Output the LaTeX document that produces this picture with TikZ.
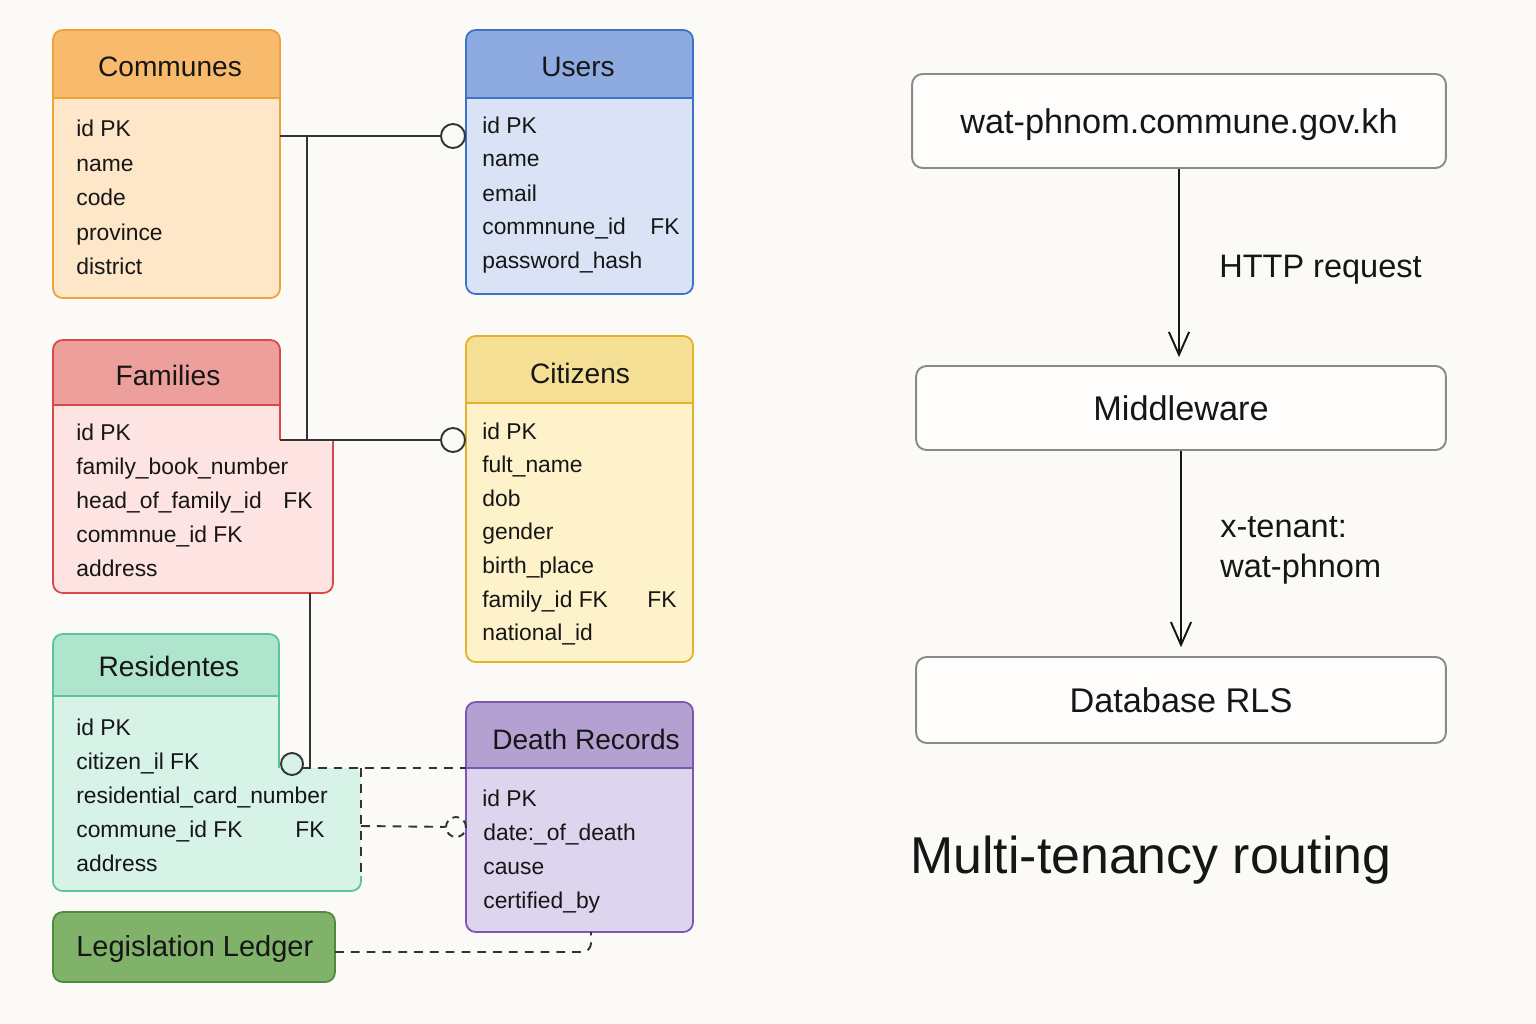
\documentclass[tikz,border=0pt]{standalone}
\usepackage{fontspec}
\setmainfont{Liberation Sans}
\usetikzlibrary{arrows.meta}

\definecolor{bg}{HTML}{FCFAF7}
\definecolor{ink}{HTML}{161616}
\definecolor{wire}{HTML}{333333}
\definecolor{comHead}{HTML}{F8BA6C}
\definecolor{comBody}{HTML}{FEE7C9}
\definecolor{comLine}{HTML}{F0A23A}
\definecolor{usrHead}{HTML}{8DABE1}
\definecolor{usrBody}{HTML}{D9E3F5}
\definecolor{usrLine}{HTML}{3D72C9}
\definecolor{famHead}{HTML}{ED9F9C}
\definecolor{famBody}{HTML}{FDE3E1}
\definecolor{famLine}{HTML}{D9484A}
\definecolor{citHead}{HTML}{F4DF95}
\definecolor{citBody}{HTML}{FEF2CA}
\definecolor{citLine}{HTML}{E1B22A}
\definecolor{resHead}{HTML}{AFE4CD}
\definecolor{resBody}{HTML}{D7F2E7}
\definecolor{resLine}{HTML}{5CC49A}
\definecolor{dthHead}{HTML}{B4A1D1}
\definecolor{dthBody}{HTML}{DDD4ED}
\definecolor{dthLine}{HTML}{7D55B3}
\definecolor{ledFill}{HTML}{80B26A}
\definecolor{ledLine}{HTML}{4F8A3E}
\definecolor{boxLine}{HTML}{8A8A8A}
\definecolor{boxFill}{HTML}{FEFDFB}

\tikzset{>={Straight Barb[length=13pt,width=11.5pt]}}
\tikzset{
  field/.style={anchor=base west, inner sep=0pt, text=ink, font=\fontsize{13}{15}\selectfont},
  title/.style={anchor=base, inner sep=0pt, text=ink, font=\fontsize{16}{19}\selectfont},
  lbl/.style={anchor=base west, inner sep=0pt, text=ink, font=\fontsize{18.5}{22}\selectfont},
  lnk/.style={draw=wire, line width=1.1pt},
  weak/.style={lnk, dash pattern=on 5pt off 4pt},
  zero/.style={circle, draw=wire, line width=1.1pt, inner sep=0pt},
  flowbox/.style={draw=boxLine, fill=boxFill, line width=1.1pt, rounded corners=6pt,
    inner sep=0pt, text=ink, font=\fontsize{19.5}{23}\selectfont, text height=14.4pt, text depth=0pt},
  flow/.style={->, draw=ink, line width=1.1pt}
}

% table: x1, y1, x2, header bottom, y2, head, body, border
\newcommand\erbox[8]{%
  \begin{scope}
    \clip[rounded corners=5.5pt] (#1,#2) rectangle (#3,#5);
    \fill[#7] (#1,#2) rectangle (#3,#5);
    \fill[#6] (#1,#2) rectangle (#3,#4);
  \end{scope}
  \draw[#8, line width=1pt, rounded corners=5.5pt] (#1,#2) rectangle (#3,#5);
  \draw[#8, line width=1pt] (#1,#4) -- (#3,#4);
}

\begin{document}
\begin{tikzpicture}[x=0.02cm,y=-0.02cm]
  \fill[bg] (0,0) rectangle (1536,1024);
  \useasboundingbox (0,0) rectangle (1536,1024);

  % Communes
  \erbox{53}{30}{280}{98}{298}{comHead}{comBody}{comLine}
  \node[title] (communes) at (170,77) {Communes};
  \node[field] (comId) at (76,137) {id PK};
  \node[field] (comName) at (76,171.5) {name};
  \node[field] (comCode) at (76,206) {code};
  \node[field] (comProv) at (76,240.5) {province};
  \node[field] (comDist) at (76,275) {district};

  % Users
  \erbox{466}{30}{693}{98}{294}{usrHead}{usrBody}{usrLine}
  \node[title] (users) at (578,77) {Users};
  \node[field] (usrId) at (482,133.5) {id PK};
  \node[field] (usrName) at (482,167) {name};
  \node[field] (usrMail) at (482,201) {email};
  \node[field] (usrCom) at (482,234.5) {commnune\_id};
  \node[field] (usrFk) at (650,234.5) {FK};
  \node[field] (usrPw) at (482,268) {password\_hash};

  % Families
  \begin{scope}
    \clip[rounded corners=5.5pt] (53,340) rectangle (280,593) (53,440) rectangle (333,593);
    \fill[famBody] (53,340) rectangle (333,593);
    \fill[famHead] (53,340) rectangle (280,405);
  \end{scope}
  \draw[famLine, line width=1pt, rounded corners=5.5pt] (333,440) -- (333,593) -- (53,593)
    -- (53,340) -- (280,340) -- (280,440);
  \draw[famLine, line width=1pt] (53,405) -- (280,405);
  \node[title] (families) at (168,385) {Families};
  \node[field] (famId) at (76,440) {id PK};
  \node[field] (famBook) at (76,474) {family\_book\_number};
  \node[field] (famHeadId) at (76,508) {head\_of\_family\_id};
  \node[field] (famFk) at (283,508) {FK};
  \node[field] (famCom) at (76,542) {commnue\_id FK};
  \node[field] (famAddr) at (76,576) {address};

  % Citizens
  \erbox{466}{336}{693}{403}{662}{citHead}{citBody}{citLine}
  \node[title] (citizens) at (580,383) {Citizens};
  \node[field] (citId) at (482,439) {id PK};
  \node[field] (citName) at (482,472.6) {fult\_name};
  \node[field] (citDob) at (482,506.2) {dob};
  \node[field] (citGen) at (482,539.8) {gender};
  \node[field] (citBirth) at (482,573.4) {birth\_place};
  \node[field] (citFam) at (482,607) {family\_id FK};
  \node[field] (citFk) at (647,607) {FK};
  \node[field] (citNat) at (482,640.6) {national\_id};

  % Residentes
  \begin{scope}
    \clip[rounded corners=5.5pt] (53,634) rectangle (279,891) (53,768) rectangle (361,891);
    \fill[resBody] (53,634) rectangle (361,891);
    \fill[resHead] (53,634) rectangle (279,696);
  \end{scope}
  \draw[resLine, line width=1pt, rounded corners=5.5pt] (361,876) -- (361,891) -- (53,891)
    -- (53,634) -- (279,634) -- (279,768);
  \draw[resLine, line width=1pt] (53,696) -- (279,696);
  \node[title] (residentes) at (169,676) {Residentes};
  \node[field] (resId) at (76,735) {id PK};
  \node[field] (resCit) at (76,769) {citizen\_il FK};
  \node[field] (resCard) at (76,803) {residential\_card\_number};
  \node[field] (resCom) at (76,837) {commune\_id FK};
  \node[field] (resFk) at (295,837) {FK};
  \node[field] (resAddr) at (76,871) {address};

  % Death Records
  \erbox{466}{702}{693}{768}{932}{dthHead}{dthBody}{dthLine}
  \node[title] (death) at (586,749) {Death Records};
  \node[field] (dthId) at (482,806) {id PK};
  \node[field] (dthDate) at (483,840) {date:\_of\_death};
  \node[field] (dthCause) at (483,874) {cause};
  \node[field] (dthCert) at (483,908) {certified\_by};

  % Legislation Ledger
  \node[draw=ledLine, fill=ledFill, line width=1pt, rounded corners=5.5pt, inner sep=0pt,
    minimum width=5.64cm, minimum height=1.4cm] (ledger) at (194,947) {};
  \node[title, anchor=base west, font=\fontsize{16.5}{19}\selectfont] (ledgerTxt) at (76,956) {Legislation Ledger};

  % relations
  \coordinate (comR) at (280,136);
  \coordinate (comJ) at (307,136);
  \coordinate (famJ) at (307,440);
  \coordinate (famR) at (280,440);
  \coordinate (famB) at (310,593);
  \coordinate (resJ) at (310,768);
  \coordinate (resT) at (302,768);
  \coordinate (resC) at (361,768);
  \coordinate (resD) at (361,876);
  \coordinate (dthL) at (466,768);
  \coordinate (resE) at (361,826);
  \coordinate (ledR) at (335,952);
  \coordinate (dthB) at (591,932);
  \node[zero, fill=bg, minimum size=0.48cm] (usrO) at (453,136) {};
  \node[zero, fill=bg, minimum size=0.48cm] (citO) at (453,440) {};
  \node[zero, fill=resBody, minimum size=0.44cm] (resO) at (292,764) {};
  \node[zero, dash pattern=on 4pt off 3pt, minimum size=0.4cm] (dthO) at (456,827) {};

  \draw[lnk] (comR) -- (usrO);
  \draw[lnk] (comJ) -- (famJ);
  \draw[lnk] (famR) -- (citO);
  \draw[lnk] (famB) -- (resJ);
  \draw[weak] (resT) -- (dthL);
  \draw[weak] (resC) -- (resD);
  \draw[weak] (resE) -- (dthO);
  \draw[weak, rounded corners=5pt] (ledR) -- (ledR -| dthB) -- (dthB);

  % multi-tenancy routing
  \node[flowbox, minimum width=10.68cm, minimum height=1.88cm] (url) at (1179,121) {wat-phnom.commune.gov.kh};
  \node[flowbox, minimum width=10.6cm, minimum height=1.68cm] (mid) at (1181,408) {Middleware};
  \node[flowbox, minimum width=10.6cm, minimum height=1.72cm] (db) at (1181,700) {Database RLS};
  \draw[flow, shorten >=4.5pt] (url.south) -- (url.south |- mid.north);
  \draw[flow, shorten >=5pt] (mid.south) -- (mid.south |- db.north);
  \node[lbl] (httpLbl) at (1219,277) {HTTP request};
  \node[lbl] (tenantKey) at (1220,537) {x-tenant:};
  \node[lbl] (tenantVal) at (1220,577) {wat-phnom};
  \node[anchor=base west, inner sep=0pt, text=ink, font=\fontsize{29.5}{35}\selectfont] (routing) at (910,873) {Multi-tenancy routing};
\end{tikzpicture}
\end{document}
